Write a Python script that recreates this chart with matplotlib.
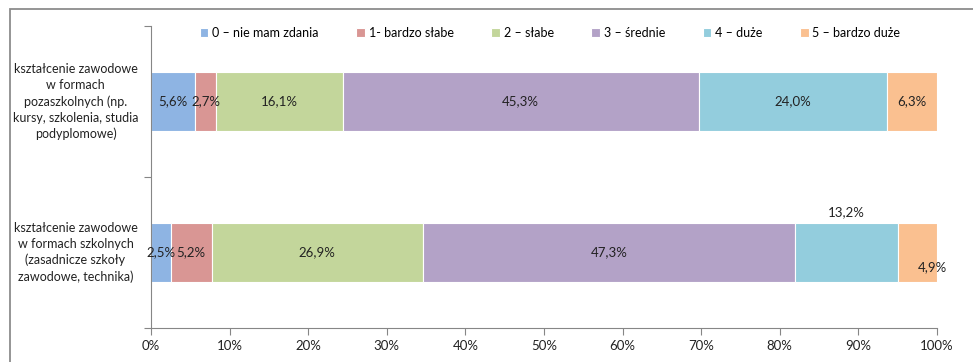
import numpy as np
import matplotlib.pyplot as plt
from matplotlib.patches import Rectangle

plt.rcParams['font.family'] = ['Lato', 'DejaVu Sans']

# data
categories = ['kształcenie zawodowe\nw formach\npozaszkolnych (np.\nkursy, szkolenia, studia\npodyplomowe)',
              'kształcenie zawodowe\nw formach szkolnych\n(zasadnicze szkoły\nzawodowe, technika)']
series = ['0 – nie mam zdania', '1- bardzo słabe', '2 – słabe', '3 – średnie', '4 – duże', '5 – bardzo duże']
pozaszkolne = [5.6, 2.7, 16.1, 45.3, 24.0, 6.3]
szkolne = [2.5, 5.2, 26.9, 47.3, 13.2, 4.9]
colors = ['#8EB4E3', '#D99694', '#C3D69B', '#B3A2C7', '#93CDDD', '#FAC090']

values = np.array([pozaszkolne, szkolne])
ypos = [1, 0]  # first category on top

fig = plt.figure(figsize=(9.73, 3.62), dpi=100)
ax = fig.add_axes([151/973, 1 - 328/362, 786/973, 302/362])

left = np.zeros(2)
for j, name in enumerate(series):
    ax.barh(ypos, values[:, j], left=left, height=0.39, color=colors[j],
            edgecolor='white', linewidth=0.8, label=name)
    for i in range(2):
        v = values[i, j]
        cx = left[i] + v / 2
        cy = ypos[i]
        dy = 0
        dx = 0
        # special placement for a couple of labels (as in the original)
        if i == 1 and j == 4:
            dy = 0.27
        if i == 1 and j == 5:
            dy = -0.1
            dx = 1.9
        ax.text(cx + dx, cy + dy, f'{v:.1f}%'.replace('.', ','), ha='center', va='center',
                fontsize=9.5, color='#222222')
    left += values[:, j]

ax.set_xlim(0, 100)
ax.set_ylim(-0.5, 1.5)
ax.set_xticks(np.arange(0, 101, 10))
ax.set_xticklabels([f'{t}%' for t in range(0, 101, 10)], fontsize=9.5)
ax.set_yticks([-0.5, 0.5, 1.5])
ax.set_yticklabels([])
for s in ['top', 'right']:
    ax.spines[s].set_visible(False)
for s in ['left', 'bottom']:
    ax.spines[s].set_color('#868686')
ax.tick_params(axis='both', color='#868686', length=5, labelcolor='#222222')

for i, cat in enumerate(categories):
    ax.text(-0.096, ypos[i] / 2 + 0.25, cat, transform=ax.transAxes,
            ha='center', va='center', fontsize=9, linespacing=1.4, color='#222222')

fig.legend(loc='center', bbox_to_anchor=(550/973, 1 - 33/362), ncol=6, frameon=False,
           fontsize=9, handlelength=0.7, handleheight=0.7, handletextpad=0.3,
           columnspacing=3.0)

# chart area frame
fig.patches.append(Rectangle((9.5/973, -0.1), 1.2, 1 - 9.5/362 + 0.1, transform=fig.transFigure,
                             fill=False, edgecolor='#8c8c8c', linewidth=1.3))

fig.savefig('out.png', dpi=100)
